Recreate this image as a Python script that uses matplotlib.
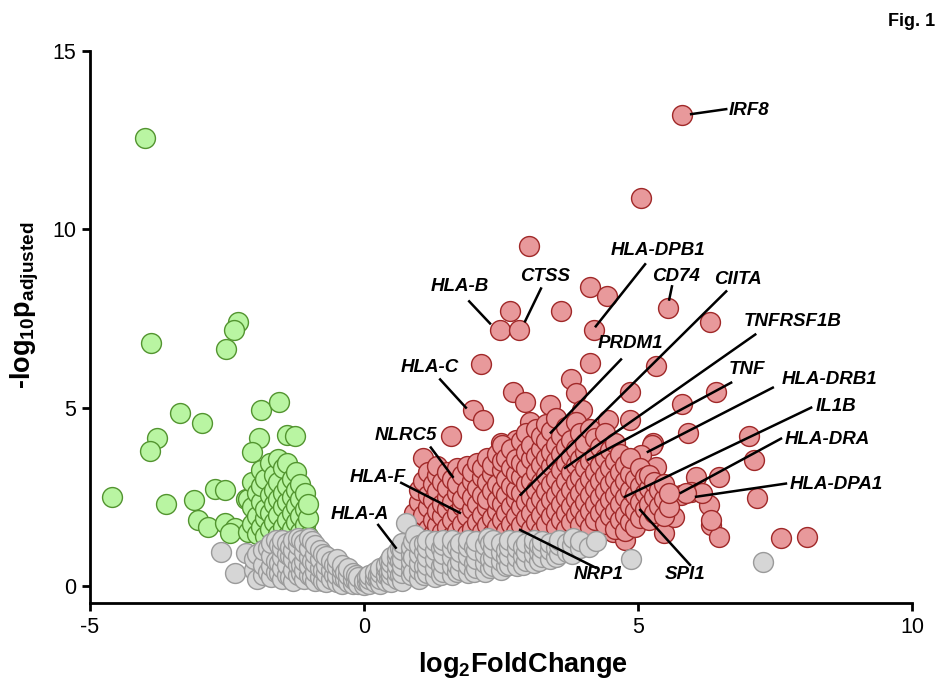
import matplotlib.pyplot as plt
import numpy as np

plt.rcParams.update({
    "font.family": ["Liberation Sans", "DejaVu Sans"],
    "mathtext.fontset": "custom",
    "mathtext.rm": "Liberation Sans",
    "mathtext.bf": "Liberation Sans:bold",
    "mathtext.it": "Liberation Sans:italic",
    "axes.unicode_minus": False,
})

# --- data (log2FC, -log10 padj) ---
# down-regulated (green), sparse points
green_x = [-4.00, -3.88, -2.52, -2.30, -2.38, -3.36, -2.96, -1.88, -1.55, -3.78, -3.91,
           -1.92, -1.41, -1.26, -2.05, -4.59, -3.62, -3.11, -2.72, -2.54, -2.16, -3.02,
           -2.85, -2.54, -2.36, -2.45, -1.96]
green_y = [12.56, 6.80, 6.63, 7.39, 7.19, 4.86, 4.58, 4.94, 5.17, 4.16, 3.79,
           4.16, 4.24, 4.19, 3.76, 2.50, 2.30, 2.42, 2.72, 2.70, 2.44, 1.85,
           1.66, 1.77, 1.63, 1.49, 1.49]
# down-regulated (green), dense cluster by column
green_dense = {
    -2.12: [1.5, 2.45], -2.04: [1.75, 2.2, 2.9], -1.96: [1.45, 1.95, 2.6],
    -1.88: [1.65, 2.35, 2.8, 3.25], -1.8: [1.4, 1.9, 2.15, 3.0],
    -1.72: [1.6, 2.05, 2.55, 3.45], -1.64: [1.8, 2.3, 2.7, 3.1],
    -1.56: [1.45, 2.0, 2.45, 2.9, 3.55], -1.48: [1.65, 2.2, 2.6, 3.3],
    -1.4: [1.4, 1.85, 2.35, 2.8, 3.45], -1.32: [1.6, 2.05, 2.5, 3.0],
    -1.24: [1.8, 2.25, 2.7, 3.2], -1.16: [1.5, 1.95, 2.45, 2.85],
    -1.08: [1.7, 2.15, 2.6], -1.02: [1.4, 1.9, 2.3],
}

# up-regulated (red), sparse points
red_x = [5.80, 5.05, 3.02, 4.13, 4.44, 3.60, 2.67, 2.49, 2.82, 4.19, 5.54, 6.31,
         2.14, 4.13, 5.32, 3.78, 3.86, 4.86, 6.43, 5.81, 3.40, 2.72, 2.94, 1.99,
         2.18, 1.59, 3.03, 4.46, 4.86, 3.97, 5.92, 7.02, 7.11, 5.28, 5.25, 4.15,
         2.50, 2.78, 1.08, 6.47, 6.05, 7.17, 6.29, 6.34, 6.47, 7.61, 8.08, 5.96,
         6.16, 5.78, 5.47, 5.87, 6.33, 5.65, 5.37, 4.55, 4.77, 5.10, 5.06, 5.06, 5.32]
red_y = [13.20, 10.87, 9.52, 8.37, 8.12, 7.72, 7.72, 7.19, 7.19, 7.19, 7.78, 7.39,
         6.21, 6.24, 6.18, 5.81, 5.42, 5.45, 5.45, 5.10, 5.08, 5.45, 5.17, 4.94,
         4.66, 4.21, 4.61, 4.66, 4.66, 4.94, 4.30, 4.19, 3.54, 4.02, 3.96, 4.10,
         4.02, 4.10, 3.60, 3.06, 3.06, 2.47, 2.28, 1.71, 1.38, 1.35, 1.38, 2.64,
         2.61, 2.56, 1.49, 2.61, 1.85, 1.94, 2.22, 1.52, 1.29, 2.08, 3.68, 3.20, 3.34]
# up-regulated (red), dense cloud by column
red_dense = {
    0.92: [1.55, 2.05], 1.0: [1.75, 2.35, 2.7], 1.08: [1.4, 2.0, 2.95],
    1.17: [1.6, 2.2, 2.55, 3.2], 1.26: [1.45, 1.85, 2.4, 2.85],
    1.34: [1.7, 2.1, 2.65, 3.1, 3.35], 1.43: [1.5, 1.95, 2.3, 2.9],
    1.52: [1.65, 2.15, 2.5, 2.75, 3.2], 1.61: [1.4, 1.85, 2.35, 3.0],
    1.7: [1.55, 2.05, 2.6, 2.85, 3.3], 1.79: [1.75, 2.25, 2.45, 3.1],
    1.88: [1.45, 1.95, 2.7, 3.35], 1.97: [1.6, 2.15, 2.5, 2.95, 3.2],
    2.06: [1.8, 2.3, 2.75, 3.45], 2.15: [1.5, 2.0, 2.55, 3.05, 3.3],
    2.24: [1.7, 2.2, 2.45, 2.9, 3.6], 2.33: [1.45, 1.9, 2.65, 3.15, 3.4],
    2.42: [1.65, 2.1, 2.4, 2.85, 3.7], 2.51: [1.85, 2.3, 2.7, 3.25, 3.5, 3.95],
    2.6: [1.55, 2.05, 2.55, 3.0, 3.6], 2.69: [1.75, 2.25, 2.8, 3.3, 3.85],
    2.78: [1.5, 1.95, 2.45, 2.7, 3.15, 3.55], 2.87: [1.7, 2.2, 2.6, 3.05, 3.45, 4.05],
    2.96: [1.9, 2.35, 2.85, 3.3, 3.75, 4.3], 3.05: [1.6, 2.05, 2.5, 2.95, 3.55, 3.95],
    3.14: [1.8, 2.3, 2.7, 3.2, 3.65, 4.4], 3.23: [1.55, 2.0, 2.45, 2.9, 3.4, 3.85, 4.2],
    3.32: [1.75, 2.2, 2.65, 3.1, 3.6, 4.05, 4.55], 3.41: [1.95, 2.4, 2.85, 3.35, 3.75, 4.35],
    3.5: [1.65, 2.1, 2.55, 3.0, 3.5, 3.95, 4.7], 3.59: [1.85, 2.3, 2.75, 3.25, 3.7, 4.2],
    3.68: [1.6, 2.05, 2.5, 2.95, 3.45, 3.9, 4.45], 3.77: [1.8, 2.25, 2.7, 3.2, 3.65, 4.1],
    3.86: [2.0, 2.45, 2.9, 3.4, 3.85, 4.6], 3.95: [1.7, 2.15, 2.6, 3.05, 3.55, 4.3],
    4.04: [1.9, 2.35, 2.8, 3.3, 3.75, 4.0], 4.13: [1.65, 2.1, 2.55, 3.0, 3.5, 4.4],
    4.22: [1.85, 2.3, 2.75, 3.2, 3.65, 4.15], 4.31: [2.05, 2.5, 2.95, 3.4, 3.9],
    4.4: [1.75, 2.2, 2.65, 3.1, 3.6, 4.3], 4.49: [1.95, 2.4, 2.85, 3.3, 3.8],
    4.58: [1.6, 2.1, 2.55, 3.0, 3.5, 4.0], 4.67: [1.85, 2.3, 2.75, 3.2, 3.7],
    4.76: [1.55, 2.0, 2.5, 2.95, 3.4], 4.85: [1.8, 2.25, 2.7, 3.15, 3.6],
    4.94: [1.65, 2.1, 2.55, 3.0], 5.03: [1.9, 2.35, 2.8, 3.3],
    5.12: [2.15, 2.6, 3.05], 5.21: [1.85, 2.3, 2.75, 3.1], 5.3: [2.05, 2.5, 2.9],
    5.39: [2.25, 2.7], 5.48: [1.95, 2.45, 2.85], 5.57: [2.2, 2.6],
}

# not significant (grey), by column
gray_dense = {
    -2.6: [0.96], -2.35: [0.37], -2.15: [0.93], -2.0: [0.45, 0.75], -1.95: [0.2, 0.9],
    -1.85: [0.3, 0.6, 1.0], -1.75: [0.4, 1.05], -1.7: [0.25, 0.55, 0.85, 1.2],
    -1.6: [0.4, 0.7, 1.29], -1.55: [0.35, 0.65, 1.15],
    -1.5: [0.2, 0.5, 0.8, 1.05, 1.3], -1.4: [0.3, 0.6, 0.9, 1.2], -1.35: [0.25, 0.85, 1.1],
    -1.3: [0.15, 0.45, 0.75, 1.0, 1.3], -1.2: [0.3, 0.6, 0.85, 1.15, 1.35],
    -1.15: [0.35, 0.6, 1.3], -1.1: [0.2, 0.45, 0.7, 0.95, 1.2],
    -1.0: [0.3, 0.55, 0.8, 1.05, 1.35], -0.95: [0.25, 0.7, 1.25],
    -0.9: [0.15, 0.4, 0.65, 0.9, 1.15], -0.8: [0.25, 0.5, 0.75, 1.0],
    -0.75: [0.15, 0.45, 0.9], -0.7: [0.1, 0.35, 0.6, 0.85], -0.6: [0.2, 0.45, 0.7],
    -0.55: [0.3, 0.6], -0.5: [0.1, 0.3, 0.55, 0.75], -0.4: [0.05, 0.25, 0.45, 0.6],
    -0.35: [0.2, 0.4], -0.3: [0.1, 0.3, 0.5], -0.2: [0.05, 0.2, 0.35], -0.15: [0.15, 0.3],
    -0.1: [0.05, 0.25], 0.0: [0.02, 0.15], 0.05: [0.1, 0.25], 0.1: [0.05, 0.2, 0.3],
    0.2: [0.1, 0.25, 0.4], 0.25: [0.2, 0.3], 0.3: [0.05, 0.2, 0.35, 0.5],
    0.4: [0.15, 0.3, 0.5, 0.6], 0.45: [0.25, 0.4, 0.7], 0.5: [0.1, 0.3, 0.45, 0.65, 0.8],
    0.6: [0.2, 0.4, 0.6, 0.8, 0.95], 0.65: [0.3, 0.7, 1.05],
    0.7: [0.15, 0.35, 0.55, 0.75, 1.0, 1.2], 0.77: [1.77],
    0.85: [0.3, 0.5, 0.7, 0.9, 1.1], 0.9: [0.4, 0.8, 1.25], 0.93: [1.43],
    1.0: [0.2, 0.45, 0.65, 0.9, 1.15], 1.1: [0.3, 0.55, 0.95, 1.2],
    1.15: [0.35, 0.6, 0.8, 1.05, 1.3], 1.3: [0.25, 0.5, 0.75, 1.0, 1.25],
    1.4: [0.3, 0.55, 1.05], 1.45: [0.4, 0.65, 0.9, 1.15, 1.3],
    1.6: [0.3, 0.55, 0.8, 1.05, 1.3], 1.7: [0.4, 0.6, 1.1], 1.75: [0.45, 0.7, 0.95, 1.2],
    1.9: [0.35, 0.6, 0.85, 1.1, 1.3], 2.0: [0.4, 0.65, 1.1], 2.05: [0.5, 0.75, 1.0, 1.25],
    2.2: [0.4, 0.65, 0.9, 1.15], 2.27: [1.35], 2.3: [0.5, 0.75, 1.2],
    2.35: [0.55, 0.8, 1.05, 1.3], 2.5: [0.45, 0.7, 0.95, 1.2], 2.6: [0.55, 0.8, 1.0],
    2.65: [0.6, 0.85, 1.1, 1.3], 2.8: [0.55, 0.8, 1.05, 1.25], 2.9: [0.6, 0.85, 1.1],
    2.95: [0.7, 0.95, 1.2], 3.1: [0.65, 0.9, 1.15, 1.3], 3.2: [0.7, 0.95, 1.15],
    3.25: [0.8, 1.05, 1.25], 3.4: [0.75, 1.0, 1.2], 3.5: [0.8, 1.05],
    3.55: [0.9, 1.15, 1.3], 3.7: [0.95, 1.2], 3.8: [0.9, 1.15], 3.82: [1.35],
    3.95: [1.05, 1.25], 4.1: [1.1], 4.24: [1.27], 4.88: [0.76], 7.28: [0.67],
}

# labelled genes: name, text position, leader line start and end (data units)
genes = ["IRF8", "HLA-DPB1", "CD74", "CIITA", "TNFRSF1B", "TNF", "PRDM1", "HLA-DRB1",
         "IL1B", "HLA-DRA", "HLA-DPA1", "SPI1", "NRP1", "HLA-F", "NLRC5", "HLA-A",
         "HLA-C", "HLA-B", "CTSS"]
text_xy = [(7.03, 13.34), (5.36, 9.41), (5.69, 8.68), (6.82, 8.60), (7.83, 7.42),
           (6.99, 6.07), (4.87, 6.80), (8.50, 5.79), (8.61, 5.03), (8.45, 4.10),
           (8.61, 2.84), (5.86, 0.31), (4.29, 0.31), (0.26, 3.03), (0.77, 4.21),
           (-0.07, 1.99), (1.20, 6.12), (1.75, 8.40), (3.30, 8.68)]
line_from = [(6.61, 13.37), (5.13, 9.02), (5.62, 8.40), (6.61, 8.26), (7.14, 7.05),
             (6.70, 5.70), (4.69, 6.35), (7.46, 5.56), (8.16, 5.00), (7.61, 4.13),
             (7.70, 2.87), (5.95, 0.59), (4.23, 0.51), (0.68, 2.89), (1.22, 3.88),
             (0.26, 1.71), (1.39, 5.79), (1.92, 7.98), (3.23, 8.34)]
line_to = [(5.97, 13.23), (4.23, 7.28), (5.57, 8.03), (2.86, 2.56), (3.67, 3.31),
           (4.09, 3.54), (3.41, 4.30), (5.18, 3.76), (4.76, 2.50), (5.78, 2.61),
           (6.06, 2.50), (5.04, 2.13), (2.85, 1.57), (1.75, 2.05), (1.62, 3.06),
           (0.58, 1.07), (1.86, 5.00), (2.30, 7.36), (2.94, 7.42)]


def expand(cols):
    xs = [x for x, ys in cols.items() for _ in ys]
    ys = [y for _, yl in cols.items() for y in yl]
    return xs, ys


gdx, gdy = expand(green_dense)
rdx, rdy = expand(red_dense)
nx, ny = expand(gray_dense)

fig = plt.figure(figsize=(9.4, 6.81), dpi=100)
ax = fig.add_axes([0.0957, 0.1145, 0.8745, 0.8106])

size = 205
ax.scatter(green_x + gdx, green_y + gdy, s=size, color='#B9F5A2', edgecolor='#52942F',
           linewidth=1, zorder=2)
ax.scatter(red_x + rdx, red_y + rdy, s=size, color='#E8999B', edgecolor='#A02828',
           linewidth=1, zorder=2)
ax.scatter(nx, ny, s=size, color='#D6D6D6', edgecolor='#9A9A9A', linewidth=1, zorder=3)

# gene labels with leader lines
for name, (tx, ty), (x0, y0), (x1, y1) in zip(genes, text_xy, line_from, line_to):
    ax.plot([x0, x1], [y0, y1], color='black', linewidth=1.8, zorder=4)
    ax.text(tx, ty, name, fontsize=13.5, fontweight='bold', fontstyle='italic',
            ha='center', va='center', zorder=5)

ax.set_xlim(-5, 10)
ax.set_ylim(-0.48, 15)
ax.set_xticks([-5, 0, 5, 10])
ax.set_yticks([0, 5, 10, 15])

ax.spines['top'].set_visible(False)
ax.spines['right'].set_visible(False)
ax.spines['left'].set_linewidth(2)
ax.spines['bottom'].set_linewidth(2)
ax.tick_params(axis='both', direction='out', length=6, width=2, labelsize=15.5, pad=4)

ax.set_xlabel(r"log$_{\mathbf{2}}$FoldChange", fontsize=19.5, fontweight='bold')
ax.xaxis.set_label_coords(0.527, -0.085)
ax.set_ylabel(r"-log$_{\mathbf{10}}$p$_{\mathbf{adjusted}}$", fontsize=19.5, fontweight='bold')
ax.yaxis.set_label_coords(-0.06, 0.54)

fig.text(935 / 940, 1 - 22 / 681, "Fig. 1", ha='right', va='center', fontsize=13,
         fontweight='bold')

plt.savefig("out.png", dpi=100)
